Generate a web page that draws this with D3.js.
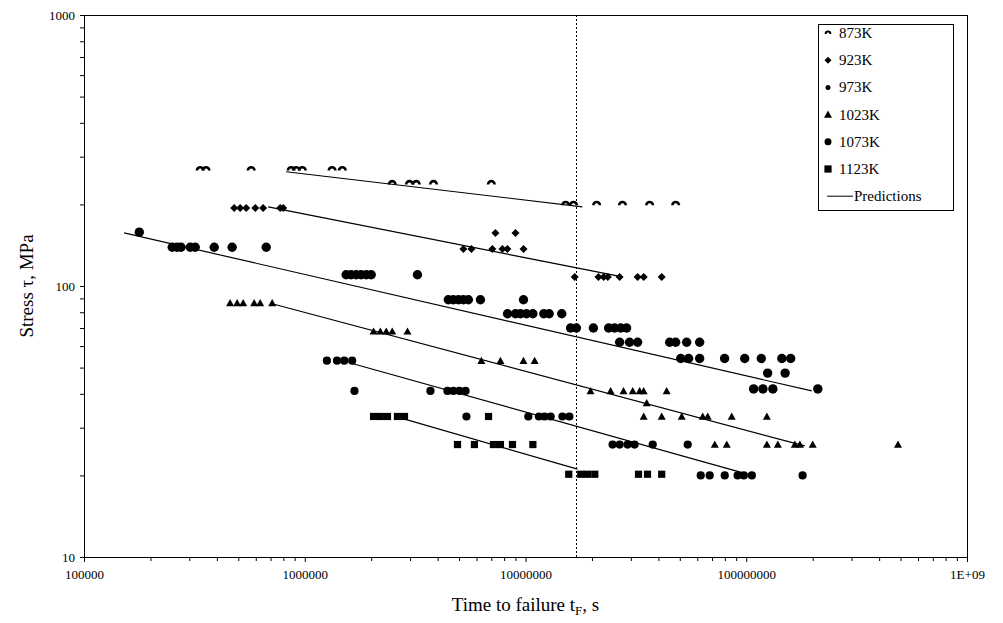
<!DOCTYPE html>
<html>
<head>
<meta charset="utf-8">
<script src="https://cdn.jsdelivr.net/npm/d3@7"></script>
<style>
  body { margin: 0; background: #fff; }
  text { font-family: "Liberation Serif", "Times New Roman", serif; fill: #000; }
</style>
</head>
<body>
<script>
// creep rupture data, [time to failure (s), stress (MPa)]
var s873 = [[3.36e5, 270], [3.57e5, 270], [5.72e5, 270], [8.68e5, 270], [9.15e5, 270], [9.75e5, 270], [1.33e6, 270], [1.48e6, 270],
  [2.49e6, 240], [2.98e6, 240], [3.2e6, 240], [3.83e6, 240], [7.0e6, 240],
  [1.52e7, 201], [1.65e7, 201], [2.1e7, 201], [2.75e7, 201], [3.65e7, 201], [4.79e7, 201]];
var s923 = [[4.79e5, 194], [5.1e5, 194], [5.43e5, 194], [5.97e5, 194], [6.48e5, 194], [7.74e5, 194], [7.99e5, 194],
  [7.31e6, 157], [9.01e6, 157],
  [5.23e6, 137], [5.69e6, 137], [7.08e6, 137], [7.86e6, 137], [8.28e6, 137], [9.8e6, 137],
  [1.67e7, 108], [2.14e7, 108], [2.26e7, 108], [2.36e7, 108], [2.67e7, 108], [3.22e7, 108], [3.43e7, 108], [4.14e7, 108]];
var s973 = [[1.78e5, 158],
  [2.51e5, 139], [2.64e5, 139], [2.75e5, 139], [3.03e5, 139], [3.19e5, 139], [3.89e5, 139], [4.69e5, 139], [6.69e5, 139],
  [1.54e6, 110], [1.62e6, 110], [1.71e6, 110], [1.8e6, 110], [1.9e6, 110], [2.0e6, 110], [3.24e6, 110],
  [4.47e6, 89], [4.71e6, 89], [4.97e6, 89], [5.23e6, 89], [5.51e6, 89], [6.25e6, 89], [9.79e6, 89],
  [8.29e6, 79], [9.01e6, 79], [9.49e6, 79], [1.01e7, 79], [1.08e7, 79], [1.21e7, 79], [1.28e7, 79], [1.46e7, 79],
  [1.6e7, 70], [1.7e7, 70], [2.03e7, 70], [2.38e7, 70], [2.53e7, 70], [2.7e7, 70], [2.87e7, 70],
  [2.67e7, 62], [2.96e7, 62], [3.22e7, 62], [4.5e7, 62], [4.79e7, 62], [5.37e7, 62], [6.15e7, 62],
  [5.05e7, 54], [5.48e7, 54], [6.15e7, 54], [7.98e7, 54], [9.84e7, 54], [1.17e8, 54], [1.45e8, 54], [1.59e8, 54],
  [1.25e8, 47.7], [1.5e8, 47.7],
  [1.08e8, 41.7], [1.19e8, 41.7], [1.32e8, 41.7], [2.11e8, 41.7]];
var s1023 = [[4.59e5, 86.5], [4.94e5, 86.5], [5.26e5, 86.5], [5.9e5, 86.5], [6.28e5, 86.5], [7.12e5, 86.5],
  [2.05e6, 68], [2.2e6, 68], [2.34e6, 68], [2.49e6, 68], [2.92e6, 68],
  [6.31e6, 53], [7.7e6, 53], [9.79e6, 53], [1.1e7, 53],
  [1.97e7, 41], [2.43e7, 41], [2.78e7, 41], [3.06e7, 41], [3.29e7, 41], [3.43e7, 41], [4.36e7, 41],
  [3.54e7, 37],
  [3.43e7, 33], [4.14e7, 33], [5.1e7, 33], [6.35e7, 33], [6.69e7, 33], [8.59e7, 33], [1.24e8, 33],
  [7.2e7, 26], [8.16e7, 26], [1.24e8, 26], [1.39e8, 26], [1.66e8, 26], [1.75e8, 26], [2.0e8, 26], [4.87e8, 26]];
var s1073 = [[1.26e6, 53], [1.4e6, 53], [1.51e6, 53], [1.64e6, 53],
  [1.68e6, 41], [3.71e6, 41], [4.43e6, 41], [4.71e6, 41], [5.02e6, 41], [5.35e6, 41],
  [5.4e6, 33], [1.03e7, 33], [1.15e7, 33], [1.22e7, 33], [1.3e7, 33], [1.47e7, 33], [1.58e7, 33],
  [2.48e7, 26], [2.67e7, 26], [2.9e7, 26], [3.12e7, 26], [3.77e7, 26], [5.43e7, 26],
  [6.22e7, 20], [6.83e7, 20], [7.99e7, 20], [9.14e7, 20], [9.75e7, 20], [1.06e8, 20], [1.8e8, 20]];
var s1123 = [[2.05e6, 33], [2.2e6, 33], [2.37e6, 33], [2.63e6, 33], [2.83e6, 33], [6.8e6, 33],
  [4.92e6, 26], [5.87e6, 26], [7.16e6, 26], [7.7e6, 26], [8.73e6, 26], [1.08e7, 26],
  [1.57e7, 20.2], [1.78e7, 20.2], [1.91e7, 20.2], [2.06e7, 20.2], [3.25e7, 20.2], [3.57e7, 20.2], [4.14e7, 20.2]];

// prediction lines, start and end
var p873 = [[8.24e5, 264], [1.81e7, 196]];
var p923 = [[6.83e5, 196], [2.75e7, 108]];
var p973 = [[1.52e5, 157], [1.98e8, 41]];
var p1023 = [[7.12e5, 86], [1.84e8, 25.7]];
var p1073 = [[1.61e6, 52], [9.75e7, 20.4]];
var p1123 = [[2.71e6, 32.6], [1.72e7, 21.1]];

var tCut = 1.7e7; // dotted vertical line

var seriesNames = ['873K', '923K', '973K', '1023K', '1073K', '1123K'];
var seriesData = [s873, s923, s973, s1023, s1073, s1123];
var predLines = [p873, p923, p973, p1023, p1073, p1123];
var shapes = ['arch', 'diamond', 'circleBig', 'triangle', 'circle', 'square'];

var xTickVals = [1e5, 1e6, 1e7, 1e8, 1e9];
var xTickLabels = ['100000', '1000000', '10000000', '100000000', '1E+09'];
var yTickVals = [10, 100, 1000];
var yTickLabels = ['10', '100', '1000'];

var width = 1003, height = 623;
var plot = {left: 84, top: 15, right: 967, bottom: 557};

var svg = d3.select('body').append('svg')
    .attr('width', width)
    .attr('height', height);

var x = d3.scaleLog().domain([1e5, 1e9]).range([plot.left, plot.right]);
var y = d3.scaleLog().domain([10, 1000]).range([plot.bottom, plot.top]);

function minors(vals) {
  var out = [];
  for (var i = 0; i < vals.length - 1; i++) {
    for (var k = 2; k <= 9; k++) out.push(vals[i] * k);
  }
  return out;
}

// axes
svg.append('g')
    .attr('transform', 'translate(0,' + plot.bottom + ')')
    .call(d3.axisBottom(x).tickValues(xTickVals).tickSize(5).tickPadding(8)
      .tickFormat(function(d, i) { return xTickLabels[i]; }));
svg.append('g')
    .attr('transform', 'translate(0,' + plot.bottom + ')')
    .call(d3.axisBottom(x).tickValues(minors(xTickVals)).tickSize(4).tickFormat(''));

svg.append('g')
    .attr('transform', 'translate(' + plot.left + ',0)')
    .call(d3.axisLeft(y).tickValues(yTickVals).tickSize(4).tickPadding(5)
      .tickFormat(function(d, i) { return yTickLabels[i]; }));
svg.append('g')
    .attr('transform', 'translate(' + plot.left + ',0)')
    .call(d3.axisLeft(y).tickValues(minors(yTickVals)).tickSize(4).tickFormat(''));

svg.selectAll('.domain').remove();
svg.selectAll('.tick line').attr('stroke', '#000');
svg.selectAll('.tick text')
    .style('font-family', '"Liberation Serif", serif')
    .style('font-size', '13px')
    .attr('fill', '#000');

// plot frame
svg.append('rect')
    .attr('x', plot.left + 0.5)
    .attr('y', plot.top + 0.5)
    .attr('width', plot.right - plot.left)
    .attr('height', plot.bottom - plot.top)
    .attr('fill', 'none')
    .attr('stroke', '#000')
    .attr('stroke-width', 1);

// dotted cut-off line
svg.append('line')
    .attr('x1', Math.round(x(tCut)) + 0.5).attr('x2', Math.round(x(tCut)) + 0.5)
    .attr('y1', plot.top).attr('y2', plot.bottom)
    .attr('stroke', '#000')
    .attr('stroke-width', 1)
    .attr('stroke-dasharray', '2,2');

// prediction lines
var line = d3.line().x(function(d) { return x(d[0]); }).y(function(d) { return y(d[1]); });
svg.append('g').selectAll('path')
    .data(predLines)
  .enter().append('path')
    .attr('d', line)
    .attr('fill', 'none')
    .attr('stroke', '#000')
    .attr('stroke-width', 1.2);

function drawMarker(g, shape, small) {
  if (shape === 'arch') {
    g.append('path').attr('d', small ? 'M-2.4,1 A2.4,2.4 0 0 1 2.4,1' : 'M-3.3,1.5 A3.3,3.3 0 0 1 3.3,1.5')
      .attr('fill', 'none').attr('stroke', '#000').attr('stroke-width', small ? 2 : 2.6);
  } else if (shape === 'diamond') {
    var r = small ? 3.5 : 4;
    g.append('path').attr('d', 'M0,' + (-r) + 'L' + r + ',0L0,' + r + 'L' + (-r) + ',0Z').attr('fill', '#000');
  } else if (shape === 'circleBig') {
    g.append('circle').attr('r', small ? 2.5 : 4.7).attr('fill', '#000');
  } else if (shape === 'circle') {
    g.append('circle').attr('r', small ? 3.5 : 4.1).attr('fill', '#000');
  } else if (shape === 'triangle') {
    g.append('path').attr('d', 'M0,-4L4,3.2L-4,3.2Z').attr('fill', '#000');
  } else if (shape === 'square') {
    g.append('rect').attr('x', -3.6).attr('y', -3.6).attr('width', 7.2).attr('height', 7.2).attr('fill', '#000');
  }
}

// data points
seriesData.forEach(function(data, si) {
  svg.append('g').selectAll('g')
      .data(data)
    .enter().append('g')
      .attr('transform', function(d) { return 'translate(' + x(d[0]) + ',' + y(d[1]) + ')'; })
      .each(function() { drawMarker(d3.select(this), shapes[si], false); });
});

// legend
var leg = {x: 818, y: 24, w: 135, h: 186, row: 27.2, first: 9};
var lg = svg.append('g');
lg.append('rect')
    .attr('x', leg.x + 0.5).attr('y', leg.y + 0.5)
    .attr('width', leg.w).attr('height', leg.h)
    .attr('fill', '#fff').attr('stroke', '#000');
seriesNames.forEach(function(name, i) {
  var cy = leg.y + leg.first + i * leg.row;
  var m = lg.append('g').attr('transform', 'translate(' + (leg.x + 10) + ',' + cy + ')');
  drawMarker(m, shapes[i], true);
  lg.append('text')
      .attr('x', leg.x + 21).attr('y', cy + 5)
      .style('font-size', '15px')
      .text(name);
});
var py = leg.y + leg.first + 6 * leg.row;
lg.append('line')
    .attr('x1', leg.x + 9).attr('x2', leg.x + 35)
    .attr('y1', py).attr('y2', py)
    .attr('stroke', '#000');
lg.append('text')
    .attr('x', leg.x + 36).attr('y', py + 5)
    .style('font-size', '15px')
    .text('Predictions');

// axis titles
svg.append('text')
    .attr('x', (plot.left + plot.right) / 2)
    .attr('y', 611)
    .attr('text-anchor', 'middle')
    .style('font-size', '19px')
    .text('Time to failure t')
  .append('tspan')
    .attr('dy', 4)
    .style('font-size', '13px')
    .text('F')
  .select(function() { return this.parentNode; })
  .append('tspan')
    .attr('dy', -4)
    .text(', s');

svg.append('text')
    .attr('transform', 'translate(33,' + ((plot.top + plot.bottom) / 2) + ') rotate(-90)')
    .attr('text-anchor', 'middle')
    .style('font-size', '19px')
    .text('Stress \u03c4, MPa');
</script>
</body>
</html>
